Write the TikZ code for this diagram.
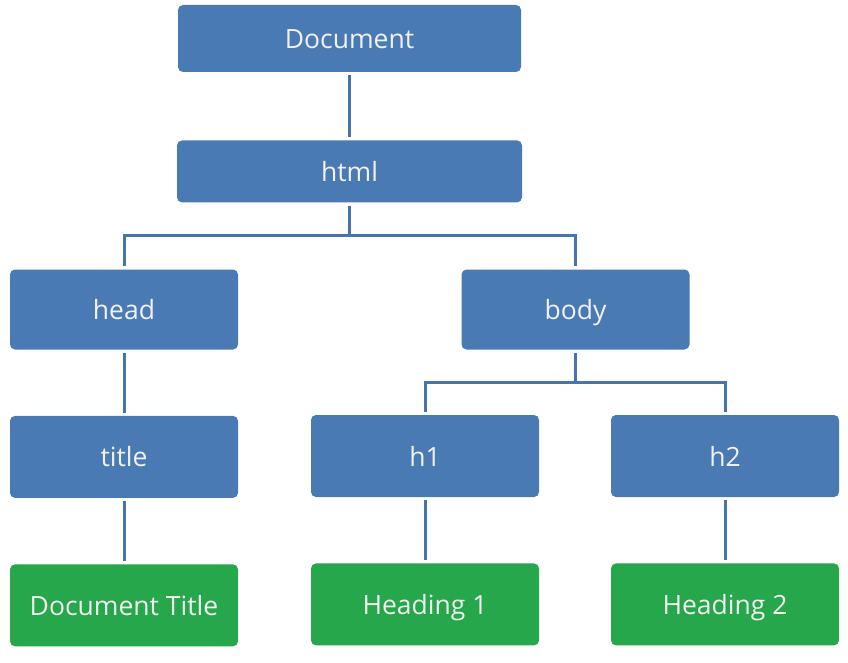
\documentclass[tikz,border=0pt]{standalone}
\usepackage{fontspec}
\setmainfont{Open Sans}
\usetikzlibrary{positioning,calc}

\definecolor{boxblue}{RGB}{74,122,180}
\definecolor{boxgreen}{RGB}{39,167,75}
\definecolor{linkblue}{RGB}{69,116,176}

\tikzset{
  box/.style={rectangle, rounded corners=5pt, fill=boxblue, text=white!94!black,
    minimum width=228pt, minimum height=80pt, inner sep=0pt,
    text height=21pt, text depth=1pt,
    font=\fontsize{26.5}{30}\selectfont},
  leaf/.style={box, fill=boxgreen},
  link/.style={draw=linkblue, line width=3pt, shorten <=3pt, shorten >=3pt}
}

\begin{document}
\begin{tikzpicture}[x=1pt,y=-1pt]
   \useasboundingbox (0,0) rectangle (848,663);

   \node[box, minimum width=343pt, minimum height=67pt] (doc) at (349.5,38.5) {Document} ; %
   \node[box, minimum width=345pt, minimum height=62pt, below=68pt of doc] (html) {html} ; %
   \node[box] (head) at (124,309.5) {head} ; %
   \node[box] (body) at (575.5,309.5) {body} ; %
   \node[box, below=66pt of head, minimum height=82pt] (title) {title} ; %
   \node[box, minimum height=82pt] (h1) at (425,456) {h1} ; %
   \node[box, minimum height=82pt] (h2) at (725,456) {h2} ; %
   \node[leaf, below=66pt of title, minimum height=82pt] (doctitle) {Document Title} ; %
   \node[leaf, below=66pt of h1, minimum height=82pt] (heading1) {Heading 1} ; %
   \node[leaf, below=66pt of h2, minimum height=82pt] (heading2) {Heading 2} ; %

   \coordinate (hj) at ($(html.south)!.5!(html.south |- head.north)$) ;
   \coordinate (bj) at ($(body.south)!.5!(body.south |- h1.north)$) ;

  \draw[link] (doc.south) -- (html.north) ;
  \draw[link, shorten >=0pt] (html.south) -- (hj) ;
  \draw[link] (head.north) |- (hj) -| (body.north) ;
  \draw[link, shorten >=0pt] (body.south) -- (bj) ;
  \draw[link] (h1.north) |- (bj) -| (h2.north) ;
  \draw[link] (head) -- (title) ;
  \draw[link] (title) -- (doctitle) ;
  \draw[link] (h1) -- (heading1) ;
  \draw[link] (h2) -- (heading2) ;

\end{tikzpicture}
\end{document}
